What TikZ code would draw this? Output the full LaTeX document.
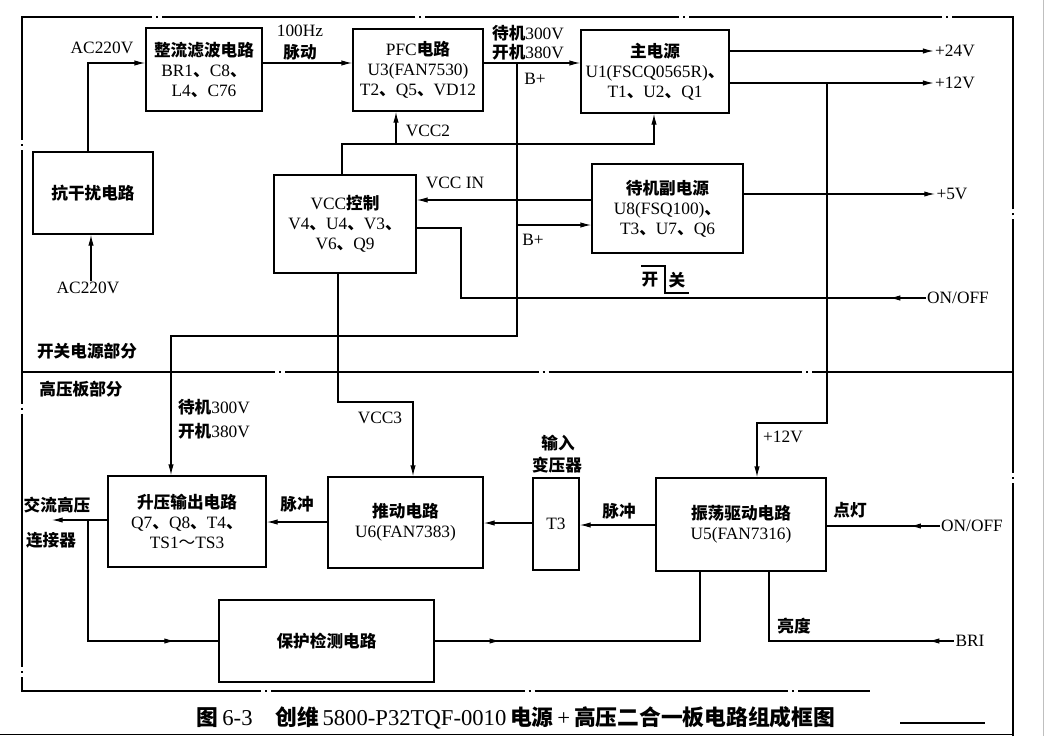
\documentclass[tikz,border=0pt]{standalone}
\usepackage{fontspec}
\setmainfont{Liberation Serif}
\newfontfamily\cjk[Scale=0.96]{Noto Sans CJK SC}
\usetikzlibrary{arrows.meta,decorations.markings}
\newcommand\zh[1]{{\cjk\bfseries #1}}
\begin{document}
\begin{tikzpicture}[x=0.75pt,y=-0.75pt,
  every node/.style={font=\fontsize{13}{15}\selectfont},
  box/.style={draw,line width=1.3pt,align=center,inner sep=0pt},
  lbl/.style={inner sep=1pt,align=center},
  con/.style={line width=0.8pt},
  arr/.style={con,-{Latex[length=8pt,width=4pt]}},
  marr/.style={con,postaction={decorate},decoration={markings,mark=at position #1 with {\arrow{Latex[length=8pt,width=4pt]}}}},
  frame/.style={line width=0.9pt,dash pattern=on 190pt off 3pt on 1.5pt off 3pt}]
\useasboundingbox (0,0) rectangle (1048,736);

% frame
\draw[frame] (1013,736) -- (1013,17) -- (22,17) -- (22,691) -- (870,691);
\draw[frame] (22,372) -- (1013,372);
\draw[line width=0.8pt] (900,723) -- (985,723);
\draw[line width=1pt] (0,734.5) -- (1013,734.5);
\draw[gray!50,line width=0.6pt] (1043,0) -- (1043,736);

% boxes
\node[box,minimum width=87pt,minimum height=62.25pt] (zl) at (204,69.5) {\zh{整流滤波电路}\\BR1\zh{、}C8\zh{、}\\L4\zh{、}C76};
\node[box,minimum width=90pt,minimum height=61.5pt] (kg) at (93,193) {\zh{抗干扰电路}};
\node[box,minimum width=97.5pt,minimum height=61.5pt] (pfc) at (418,70) {PFC\zh{电路}\\U3(FAN7530)\\T2\zh{、}Q5\zh{、}VD12};
\node[box,minimum width=111pt,minimum height=62.25pt] (zdy) at (655,71.5) {\zh{主电源}\\U1(FSCQ0565R)\zh{、}\\T1\zh{、}U2\zh{、}Q1};
\node[box,minimum width=113.25pt,minimum height=66.75pt] (dj) at (667.5,208.5) {\zh{待机副电源}\\U8(FSQ100)\zh{、}\\T3\zh{、}U7\zh{、}Q6};
\node[box,minimum width=106.5pt,minimum height=73.5pt] (vcc) at (345,224) {VCC\zh{控制}\\V4\zh{、}U4\zh{、}V3\zh{、}\\V6\zh{、}Q9};
\node[box,minimum width=118.5pt,minimum height=68.25pt] (sy) at (187,521.5) {\zh{升压输出电路}\\Q7\zh{、}Q8\zh{、}T4\zh{、}\\TS1{\cjk ～}TS3};
\node[box,minimum width=116.25pt,minimum height=68.25pt] (td) at (405.5,522.5) {\zh{推动电路}\\U6(FAN7383)};
\node[box,minimum width=34.5pt,minimum height=69pt] (t3) at (556,524) {T3};
\node[box,minimum width=127.5pt,minimum height=69.75pt] (zd) at (741,524.5) {\zh{振荡驱动电路}\\U5(FAN7316)};
\node[box,minimum width=161.25pt,minimum height=61.5pt] (bh) at (326.5,641) {\zh{保护检测电路}};

% labels
\node[lbl] (ac1) at (102,48) {AC220V};
\node[lbl] (ac2) at (88,288) {AC220V};
\node[lbl] (hz) at (300,31) {100Hz};
\node[lbl] (md) at (300,52) {\zh{脉动}};
\node[lbl] (dj1) at (528,33) {\zh{待机}300V};
\node[lbl] (kj1) at (528,52) {\zh{开机}380V};
\node[lbl] (bp1) at (535,79) {B+};
\node[lbl] (bp2) at (533,240) {B+};
\node[lbl] (vcc2) at (428,131) {VCC2};
\node[lbl] (vccin) at (455,183) {VCC IN};
\node[lbl] (p24) at (955,51) {+24V};
\node[lbl] (p12) at (955,83) {+12V};
\node[lbl] (p5) at (952,194) {+5V};
\node[lbl] (onoff1) at (958,298) {ON/OFF};
\node[lbl] (kai) at (650,280) {\zh{开}};
\node[lbl] (guan) at (677,280) {\zh{关}};
\node[lbl] (sec1) at (87,351) {\zh{开关电源部分}};
\node[lbl] (sec2) at (81,389) {\zh{高压板部分}};
\node[lbl] (dj2) at (214,407) {\zh{待机}300V};
\node[lbl] (kj2) at (214,431) {\zh{开机}380V};
\node[lbl] (vcc3) at (380,418) {VCC3};
\node[lbl] (p12b) at (783,437) {+12V};
\node[lbl] (sr) at (558,443) {\zh{输入}};
\node[lbl] (byq) at (557,465) {\zh{变压器}};
\node[lbl] (mc1) at (297,504) {\zh{脉冲}};
\node[lbl] (mc2) at (619,511) {\zh{脉冲}};
\node[lbl] (dd) at (850,510) {\zh{点灯}};
\node[lbl] (ld) at (794,626) {\zh{亮度}};
\node[lbl] (jl) at (57,505) {\zh{交流高压}};
\node[lbl] (ljq) at (51,540) {\zh{连接器}};
\node[lbl] (onoff2) at (972,526) {ON/OFF};
\node[lbl] (bri) at (970,641) {BRI};
\node[lbl,font=\fontsize{17}{19}\selectfont] (cap) at (516,718) {\zh{图}\,6-3\quad\zh{创维}\,5800-P32TQF-0010\,\zh{电源}\,+\,\zh{高压二合一板电路组成框图}};

% switch symbol
\draw[con,line width=1pt] (641,266) -- (665,266) -- (665,293) -- (689,293);

% connectors
\coordinate (jB) at (517,63);
\coordinate (out) at (52,520);
\draw[arr] (ac2.north -| 91,0) -- (kg.south -| 91,0);
\draw[arr] (kg.north -| 88,0) -- (88,63) -- (zl.west |- 0,63);
\draw[arr] (zl.east |- 0,63) -- (pfc.west |- 0,63);
\draw[arr] (pfc.east |- 0,63) -- (zdy.west |- 0,63);
\draw[arr] (jB) -- (517,336) -- (171,336) -- (sy.north -| 171,0);
\draw[arr] (517,225) -- (dj.west |- 0,225);
\draw[arr] (vcc.north -| 342,0) -- (342,144) -- (654,144) -- (zdy.south -| 654,0);
\draw[arr] (396,144) -- (pfc.south -| 396,0);
\draw[arr] (dj.west |- 0,200) -- (vcc.east |- 0,200);
\draw[marr=27pt] (onoff1.west) -- (461,298) -- (461,228) -- (vcc.east |- 0,228);
\draw[arr] (zdy.east |- 0,51) -- (p24.west);
\draw[arr] (zdy.east |- 0,83) -- (p12.west);
\draw[arr] (827,83) -- (827,423) -- (757,423) -- (zd.north -| 757,0);
\draw[arr] (dj.east |- 0,194) -- (p5.west);
\draw[arr] (vcc.south -| 338,0) -- (338,402) -- (413,402) -- (td.north -| 413,0);
\draw[arr] (zd.west |- 0,525) -- (t3.east |- 0,525);
\draw[arr] (t3.west |- 0,523) -- (td.east |- 0,523);
\draw[arr] (td.west |- 0,522) -- (sy.east |- 0,522);
\draw[arr] (sy.west |- 0,520) -- (out);
\draw[marr=156pt] (88,520) -- (88,641) -- (bh.west);
\draw[marr=49pt] (bh.east) -- (700,641) -- (zd.south -| 700,0);
\draw[marr=19pt] (bri.west) -- (769,641) -- (zd.south -| 769,0);
\draw[marr=22pt] (onoff2.west) -- (zd.east |- 0,526);
\end{tikzpicture}
\end{document}
